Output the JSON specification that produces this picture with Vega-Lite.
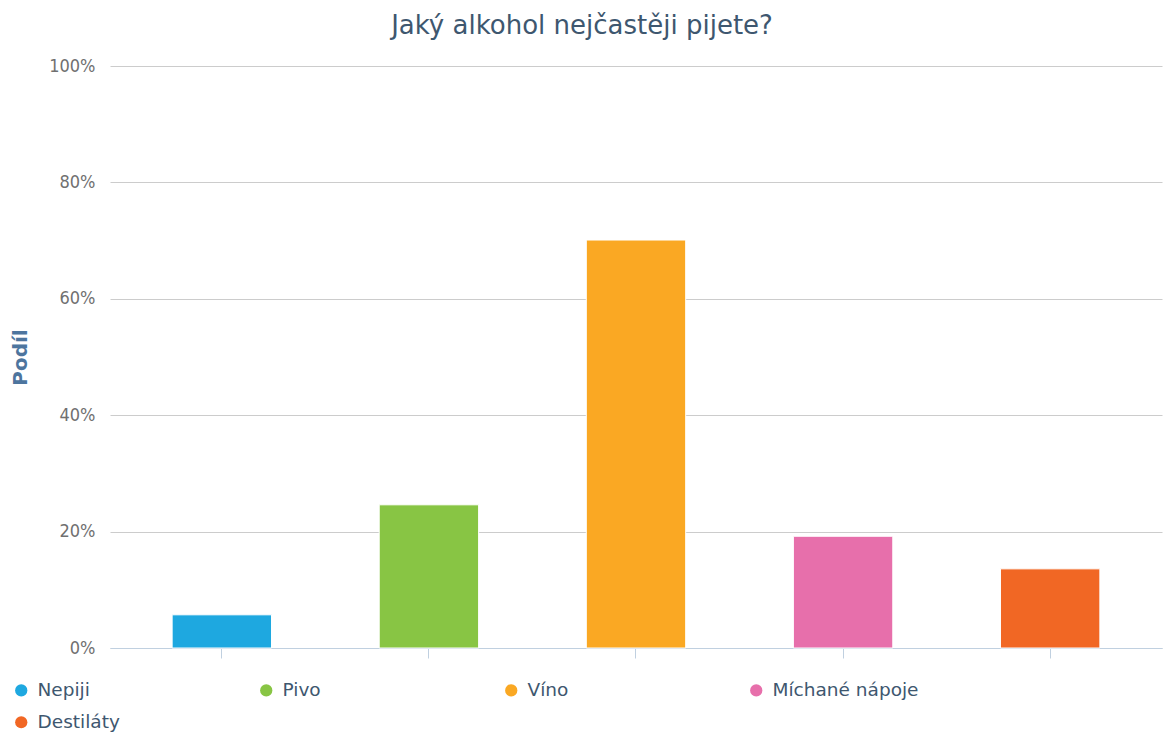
{
  "$schema": "https://vega.github.io/schema/vega-lite/v6.json",
  "autosize": {"type": "none"},
  "width": 1052,
  "height": 582,
  "padding": {"left": 110, "top": 66, "right": 4, "bottom": 90},
  "background": "white",
  "title": {
    "text": "Jaký alkohol nejčastěji pijete?",
    "font": "DejaVu Sans",
    "fontSize": 26,
    "fontWeight": "normal",
    "color": "#3e576f",
    "dx": -54,
    "offset": 18
  },
  "config": {
    "view": {"stroke": null},
    "font": "DejaVu Sans"
  },
  "data": {
    "values": [
      {"kategorie": "Nepiji", "podil": 0.057},
      {"kategorie": "Pivo", "podil": 0.246},
      {"kategorie": "Víno", "podil": 0.701},
      {"kategorie": "Míchané nápoje", "podil": 0.192},
      {"kategorie": "Destiláty", "podil": 0.136}
    ]
  },
  "mark": {"type": "bar", "stroke": "white", "strokeWidth": 1},
  "encoding": {
    "x": {
      "field": "kategorie",
      "type": "nominal",
      "sort": null,
      "scale": {"paddingInner": 0.52, "paddingOuter": 0.3},
      "axis": {
        "title": null,
        "labels": false,
        "domainColor": "#c0d0e0",
        "tickColor": "#c0d0e0",
        "tickSize": 10,
        "domainWidth": 1,
        "grid": false
      }
    },
    "y": {
      "field": "podil",
      "type": "quantitative",
      "scale": {"domain": [0, 1]},
      "axis": {
        "title": "Podíl",
        "titleFont": "DejaVu Sans",
        "titleFontSize": 20,
        "titleFontWeight": "bold",
        "titleColor": "#4d759e",
        "titlePadding": 18,
        "format": ".0%",
        "values": [0, 0.2, 0.4, 0.6, 0.8, 1],
        "labelFont": "DejaVu Sans Condensed",
        "labelFontSize": 18,
        "labelColor": "#707070",
        "labelPadding": 15,
        "ticks": false,
        "domain": false,
        "gridColor": "#cccccc",
        "gridWidth": 1
      }
    },
    "color": {
      "field": "kategorie",
      "type": "nominal",
      "sort": null,
      "scale": {
        "domain": ["Nepiji", "Pivo", "Víno", "Míchané nápoje", "Destiláty"],
        "range": ["#1ea8e0", "#88c544", "#faa823", "#e76fab", "#f16724"]
      },
      "legend": {
        "title": null,
        "orient": "none",
        "legendX": -98,
        "legendY": 615,
        "direction": "horizontal",
        "columns": 4,
        "gridAlign": "all",
        "columnPadding": 73,
        "rowPadding": 13,
        "symbolType": "circle",
        "symbolSize": 150,
        "symbolStrokeWidth": 0,
        "labelFontSize": 18.5,
        "labelColor": "#3e576f",
        "labelOffset": 7,
        "labelLimit": 300
      }
    }
  }
}
